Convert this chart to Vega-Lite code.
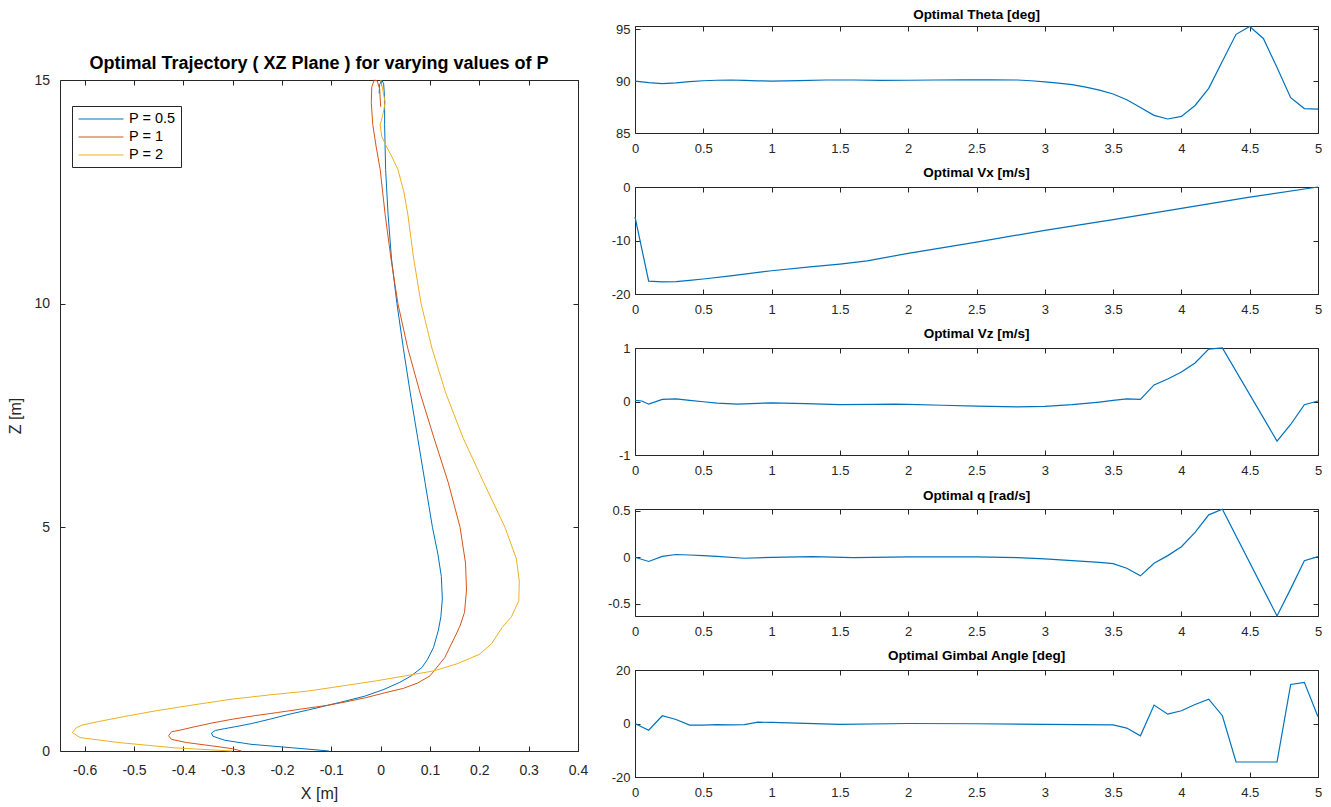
{
  "$schema": "https://vega.github.io/schema/vega-lite/v6.json",
  "background": "white",
  "padding": {"left": 6, "top": 7, "right": 10, "bottom": 2},
  "config": {
    "font": "Liberation Sans",
    "view": {"stroke": "#262626", "strokeWidth": 1},
    "axis": {"grid": false, "domain": false, "tickColor": "#262626", "tickSize": -5, "tickWidth": 1,
      "labelColor": "#262626", "labelFont": "Liberation Sans", "labelFontSize": 13,
      "titleFont": "Liberation Sans", "titleColor": "#262626", "titleFontWeight": "normal", "titleFontSize": 16,
      "labelFlush": false, "labelOverlap": false, "labelBound": false},
    "title": {"font": "Liberation Sans", "color": "#000000", "fontWeight": "bold", "anchor": "middle", "baseline": "alphabetic"}
  },
  "datasets": {
    "traj": [
      {"series": "P = 0.5", "i": 0, "x": -0.003, "z": 14.7},
      {"series": "P = 0.5", "i": 1, "x": -0.002, "z": 14.9},
      {"series": "P = 0.5", "i": 2, "x": 0.002, "z": 15.0},
      {"series": "P = 0.5", "i": 3, "x": 0.006, "z": 14.92},
      {"series": "P = 0.5", "i": 4, "x": 0.008, "z": 14.6},
      {"series": "P = 0.5", "i": 5, "x": 0.008, "z": 14.0},
      {"series": "P = 0.5", "i": 6, "x": 0.010, "z": 13.0},
      {"series": "P = 0.5", "i": 7, "x": 0.015, "z": 12.0},
      {"series": "P = 0.5", "i": 8, "x": 0.022, "z": 11.0},
      {"series": "P = 0.5", "i": 9, "x": 0.033, "z": 10.0},
      {"series": "P = 0.5", "i": 10, "x": 0.046, "z": 9.0},
      {"series": "P = 0.5", "i": 11, "x": 0.060, "z": 8.0},
      {"series": "P = 0.5", "i": 12, "x": 0.075, "z": 7.0},
      {"series": "P = 0.5", "i": 13, "x": 0.090, "z": 6.0},
      {"series": "P = 0.5", "i": 14, "x": 0.105, "z": 5.0},
      {"series": "P = 0.5", "i": 15, "x": 0.116, "z": 4.4},
      {"series": "P = 0.5", "i": 16, "x": 0.123, "z": 3.9},
      {"series": "P = 0.5", "i": 17, "x": 0.125, "z": 3.4},
      {"series": "P = 0.5", "i": 18, "x": 0.122, "z": 3.0},
      {"series": "P = 0.5", "i": 19, "x": 0.117, "z": 2.7},
      {"series": "P = 0.5", "i": 20, "x": 0.107, "z": 2.31},
      {"series": "P = 0.5", "i": 21, "x": 0.095, "z": 2.05},
      {"series": "P = 0.5", "i": 22, "x": 0.084, "z": 1.87},
      {"series": "P = 0.5", "i": 23, "x": 0.062, "z": 1.68},
      {"series": "P = 0.5", "i": 24, "x": 0.038, "z": 1.53},
      {"series": "P = 0.5", "i": 25, "x": 0.005, "z": 1.37},
      {"series": "P = 0.5", "i": 26, "x": -0.031, "z": 1.23},
      {"series": "P = 0.5", "i": 27, "x": -0.07, "z": 1.12},
      {"series": "P = 0.5", "i": 28, "x": -0.108, "z": 1.02},
      {"series": "P = 0.5", "i": 29, "x": -0.146, "z": 0.92},
      {"series": "P = 0.5", "i": 30, "x": -0.186, "z": 0.82},
      {"series": "P = 0.5", "i": 31, "x": -0.225, "z": 0.71},
      {"series": "P = 0.5", "i": 32, "x": -0.263, "z": 0.61},
      {"series": "P = 0.5", "i": 33, "x": -0.296, "z": 0.54},
      {"series": "P = 0.5", "i": 34, "x": -0.316, "z": 0.5},
      {"series": "P = 0.5", "i": 35, "x": -0.335, "z": 0.46},
      {"series": "P = 0.5", "i": 36, "x": -0.343, "z": 0.4},
      {"series": "P = 0.5", "i": 37, "x": -0.340, "z": 0.33},
      {"series": "P = 0.5", "i": 38, "x": -0.316, "z": 0.24},
      {"series": "P = 0.5", "i": 39, "x": -0.263, "z": 0.15},
      {"series": "P = 0.5", "i": 40, "x": -0.178, "z": 0.07},
      {"series": "P = 0.5", "i": 41, "x": -0.135, "z": 0.03},
      {"series": "P = 0.5", "i": 42, "x": -0.105, "z": 0.0},
      {"series": "P = 1", "i": 0, "x": 0.0, "z": 14.4},
      {"series": "P = 1", "i": 1, "x": -0.002, "z": 14.8},
      {"series": "P = 1", "i": 2, "x": -0.007, "z": 14.98},
      {"series": "P = 1", "i": 3, "x": -0.013, "z": 15.0},
      {"series": "P = 1", "i": 4, "x": -0.018, "z": 14.85},
      {"series": "P = 1", "i": 5, "x": -0.019, "z": 14.5},
      {"series": "P = 1", "i": 6, "x": -0.016, "z": 14.0},
      {"series": "P = 1", "i": 7, "x": -0.009, "z": 13.5},
      {"series": "P = 1", "i": 8, "x": -0.001, "z": 13.0},
      {"series": "P = 1", "i": 9, "x": 0.009, "z": 12.0},
      {"series": "P = 1", "i": 10, "x": 0.021, "z": 11.0},
      {"series": "P = 1", "i": 11, "x": 0.035, "z": 10.0},
      {"series": "P = 1", "i": 12, "x": 0.055, "z": 9.0},
      {"series": "P = 1", "i": 13, "x": 0.08, "z": 8.0},
      {"series": "P = 1", "i": 14, "x": 0.108, "z": 7.0},
      {"series": "P = 1", "i": 15, "x": 0.137, "z": 6.0},
      {"series": "P = 1", "i": 16, "x": 0.161, "z": 5.0},
      {"series": "P = 1", "i": 17, "x": 0.172, "z": 4.2},
      {"series": "P = 1", "i": 18, "x": 0.174, "z": 3.6},
      {"series": "P = 1", "i": 19, "x": 0.170, "z": 3.1},
      {"series": "P = 1", "i": 20, "x": 0.161, "z": 2.8},
      {"series": "P = 1", "i": 21, "x": 0.153, "z": 2.61},
      {"series": "P = 1", "i": 22, "x": 0.13, "z": 2.09},
      {"series": "P = 1", "i": 23, "x": 0.1, "z": 1.68},
      {"series": "P = 1", "i": 24, "x": 0.075, "z": 1.52},
      {"series": "P = 1", "i": 25, "x": 0.046, "z": 1.4},
      {"series": "P = 1", "i": 26, "x": 0.008, "z": 1.3},
      {"series": "P = 1", "i": 27, "x": -0.031, "z": 1.19},
      {"series": "P = 1", "i": 28, "x": -0.07, "z": 1.1},
      {"series": "P = 1", "i": 29, "x": -0.108, "z": 1.02},
      {"series": "P = 1", "i": 30, "x": -0.16, "z": 0.94},
      {"series": "P = 1", "i": 31, "x": -0.209, "z": 0.86},
      {"series": "P = 1", "i": 32, "x": -0.255, "z": 0.79},
      {"series": "P = 1", "i": 33, "x": -0.301, "z": 0.71},
      {"series": "P = 1", "i": 34, "x": -0.34, "z": 0.63},
      {"series": "P = 1", "i": 35, "x": -0.378, "z": 0.54},
      {"series": "P = 1", "i": 36, "x": -0.405, "z": 0.47},
      {"series": "P = 1", "i": 37, "x": -0.424, "z": 0.43},
      {"series": "P = 1", "i": 38, "x": -0.43, "z": 0.34},
      {"series": "P = 1", "i": 39, "x": -0.424, "z": 0.26},
      {"series": "P = 1", "i": 40, "x": -0.394, "z": 0.19},
      {"series": "P = 1", "i": 41, "x": -0.332, "z": 0.1},
      {"series": "P = 1", "i": 42, "x": -0.30, "z": 0.05},
      {"series": "P = 1", "i": 43, "x": -0.282, "z": 0.0},
      {"series": "P = 2", "i": 0, "x": 0.0, "z": 15.0},
      {"series": "P = 2", "i": 1, "x": 0.004, "z": 14.8},
      {"series": "P = 2", "i": 2, "x": 0.009, "z": 14.5},
      {"series": "P = 2", "i": 3, "x": 0.005, "z": 14.25},
      {"series": "P = 2", "i": 4, "x": -0.001, "z": 14.0},
      {"series": "P = 2", "i": 5, "x": 0.002, "z": 13.75},
      {"series": "P = 2", "i": 6, "x": 0.01, "z": 13.55},
      {"series": "P = 2", "i": 7, "x": 0.022, "z": 13.3},
      {"series": "P = 2", "i": 8, "x": 0.035, "z": 13.0},
      {"series": "P = 2", "i": 9, "x": 0.047, "z": 12.5},
      {"series": "P = 2", "i": 10, "x": 0.055, "z": 12.0},
      {"series": "P = 2", "i": 11, "x": 0.067, "z": 11.0},
      {"series": "P = 2", "i": 12, "x": 0.082, "z": 10.0},
      {"series": "P = 2", "i": 13, "x": 0.104, "z": 9.0},
      {"series": "P = 2", "i": 14, "x": 0.132, "z": 8.0},
      {"series": "P = 2", "i": 15, "x": 0.167, "z": 7.0},
      {"series": "P = 2", "i": 16, "x": 0.209, "z": 6.0},
      {"series": "P = 2", "i": 17, "x": 0.252, "z": 5.0},
      {"series": "P = 2", "i": 18, "x": 0.275, "z": 4.3},
      {"series": "P = 2", "i": 19, "x": 0.281, "z": 3.8},
      {"series": "P = 2", "i": 20, "x": 0.28, "z": 3.36},
      {"series": "P = 2", "i": 21, "x": 0.265, "z": 3.0},
      {"series": "P = 2", "i": 22, "x": 0.246, "z": 2.76},
      {"series": "P = 2", "i": 23, "x": 0.225, "z": 2.4},
      {"series": "P = 2", "i": 24, "x": 0.2, "z": 2.16},
      {"series": "P = 2", "i": 25, "x": 0.155, "z": 1.95},
      {"series": "P = 2", "i": 26, "x": 0.107, "z": 1.79},
      {"series": "P = 2", "i": 27, "x": 0.05, "z": 1.68},
      {"series": "P = 2", "i": 28, "x": -0.008, "z": 1.57},
      {"series": "P = 2", "i": 29, "x": -0.08, "z": 1.45},
      {"series": "P = 2", "i": 30, "x": -0.147, "z": 1.34},
      {"series": "P = 2", "i": 31, "x": -0.22, "z": 1.26},
      {"series": "P = 2", "i": 32, "x": -0.301, "z": 1.16},
      {"series": "P = 2", "i": 33, "x": -0.38, "z": 1.03},
      {"series": "P = 2", "i": 34, "x": -0.455, "z": 0.9},
      {"series": "P = 2", "i": 35, "x": -0.52, "z": 0.77},
      {"series": "P = 2", "i": 36, "x": -0.571, "z": 0.66},
      {"series": "P = 2", "i": 37, "x": -0.605, "z": 0.58},
      {"series": "P = 2", "i": 38, "x": -0.617, "z": 0.52},
      {"series": "P = 2", "i": 39, "x": -0.625, "z": 0.41},
      {"series": "P = 2", "i": 40, "x": -0.609, "z": 0.3},
      {"series": "P = 2", "i": 41, "x": -0.532, "z": 0.19},
      {"series": "P = 2", "i": 42, "x": -0.417, "z": 0.07},
      {"series": "P = 2", "i": 43, "x": -0.35, "z": 0.03},
      {"series": "P = 2", "i": 44, "x": -0.301, "z": 0.0}
    ],
    "theta": [
      {"t": 0, "v": 90.0}, {"t": 0.1, "v": 89.85}, {"t": 0.2, "v": 89.75}, {"t": 0.3, "v": 89.82},
      {"t": 0.4, "v": 89.94}, {"t": 0.5, "v": 90.03}, {"t": 0.6, "v": 90.08}, {"t": 0.7, "v": 90.1},
      {"t": 0.8, "v": 90.06}, {"t": 0.9, "v": 90.02}, {"t": 1.0, "v": 90.0}, {"t": 1.1, "v": 90.02},
      {"t": 1.2, "v": 90.05}, {"t": 1.4, "v": 90.1}, {"t": 1.6, "v": 90.1}, {"t": 1.8, "v": 90.06},
      {"t": 2.0, "v": 90.08}, {"t": 2.2, "v": 90.1}, {"t": 2.4, "v": 90.12}, {"t": 2.6, "v": 90.12},
      {"t": 2.8, "v": 90.1}, {"t": 2.9, "v": 90.03}, {"t": 3.0, "v": 89.92}, {"t": 3.1, "v": 89.8},
      {"t": 3.2, "v": 89.65}, {"t": 3.3, "v": 89.42}, {"t": 3.4, "v": 89.12}, {"t": 3.5, "v": 88.75},
      {"t": 3.6, "v": 88.2}, {"t": 3.7, "v": 87.45}, {"t": 3.8, "v": 86.7}, {"t": 3.9, "v": 86.35},
      {"t": 4.0, "v": 86.6}, {"t": 4.1, "v": 87.65}, {"t": 4.2, "v": 89.3}, {"t": 4.3, "v": 91.9},
      {"t": 4.4, "v": 94.5}, {"t": 4.5, "v": 95.25}, {"t": 4.6, "v": 94.1}, {"t": 4.7, "v": 91.3},
      {"t": 4.8, "v": 88.4}, {"t": 4.9, "v": 87.35}, {"t": 5.0, "v": 87.3}
    ],
    "vx": [
      {"t": 0, "v": -5.6}, {"t": 0.1, "v": -17.6}, {"t": 0.2, "v": -17.75}, {"t": 0.3, "v": -17.7},
      {"t": 0.4, "v": -17.45}, {"t": 0.5, "v": -17.2}, {"t": 0.7, "v": -16.6}, {"t": 1.0, "v": -15.65},
      {"t": 1.3, "v": -14.9}, {"t": 1.5, "v": -14.4}, {"t": 1.7, "v": -13.8}, {"t": 2.0, "v": -12.4},
      {"t": 2.5, "v": -10.3}, {"t": 3.0, "v": -8.1}, {"t": 3.5, "v": -6.1}, {"t": 4.0, "v": -4.0},
      {"t": 4.5, "v": -1.9}, {"t": 5.0, "v": 0.0}
    ],
    "vz": [
      {"t": 0, "v": 0.02}, {"t": 0.05, "v": 0.01}, {"t": 0.1, "v": -0.05}, {"t": 0.2, "v": 0.04},
      {"t": 0.3, "v": 0.05}, {"t": 0.4, "v": 0.02}, {"t": 0.5, "v": -0.005}, {"t": 0.6, "v": -0.03},
      {"t": 0.75, "v": -0.05}, {"t": 0.9, "v": -0.035}, {"t": 1.0, "v": -0.025}, {"t": 1.25, "v": -0.04},
      {"t": 1.5, "v": -0.06}, {"t": 1.75, "v": -0.055}, {"t": 1.9, "v": -0.05}, {"t": 2.0, "v": -0.055},
      {"t": 2.25, "v": -0.07}, {"t": 2.5, "v": -0.085}, {"t": 2.8, "v": -0.1}, {"t": 3.0, "v": -0.09},
      {"t": 3.2, "v": -0.06}, {"t": 3.4, "v": -0.01}, {"t": 3.5, "v": 0.02}, {"t": 3.6, "v": 0.05},
      {"t": 3.7, "v": 0.04}, {"t": 3.8, "v": 0.31}, {"t": 3.9, "v": 0.42}, {"t": 4.0, "v": 0.55},
      {"t": 4.1, "v": 0.72}, {"t": 4.2, "v": 0.98}, {"t": 4.3, "v": 1.0}, {"t": 4.7, "v": -0.74},
      {"t": 4.8, "v": -0.43}, {"t": 4.9, "v": -0.06}, {"t": 5.0, "v": 0.01}
    ],
    "q": [
      {"t": 0, "v": 0.0}, {"t": 0.1, "v": -0.045}, {"t": 0.2, "v": 0.01}, {"t": 0.3, "v": 0.03},
      {"t": 0.4, "v": 0.025}, {"t": 0.5, "v": 0.018}, {"t": 0.6, "v": 0.01}, {"t": 0.8, "v": -0.01},
      {"t": 1.0, "v": 0.0}, {"t": 1.3, "v": 0.007}, {"t": 1.6, "v": -0.004}, {"t": 2.0, "v": 0.004},
      {"t": 2.5, "v": 0.004}, {"t": 2.8, "v": -0.004}, {"t": 3.0, "v": -0.018}, {"t": 3.2, "v": -0.036},
      {"t": 3.4, "v": -0.054}, {"t": 3.5, "v": -0.068}, {"t": 3.6, "v": -0.118}, {"t": 3.7, "v": -0.2},
      {"t": 3.8, "v": -0.064}, {"t": 3.9, "v": 0.018}, {"t": 4.0, "v": 0.114}, {"t": 4.1, "v": 0.268},
      {"t": 4.2, "v": 0.457}, {"t": 4.3, "v": 0.518}, {"t": 4.7, "v": -0.632}, {"t": 4.8, "v": -0.34},
      {"t": 4.9, "v": -0.036}, {"t": 5.0, "v": 0.007}
    ],
    "gimbal": [
      {"t": 0, "v": 0.0}, {"t": 0.1, "v": -2.5}, {"t": 0.2, "v": 2.9}, {"t": 0.3, "v": 1.5},
      {"t": 0.4, "v": -0.6}, {"t": 0.5, "v": -0.6}, {"t": 0.6, "v": -0.4}, {"t": 0.7, "v": -0.5},
      {"t": 0.8, "v": -0.4}, {"t": 0.9, "v": 0.5}, {"t": 1.0, "v": 0.4}, {"t": 1.5, "v": -0.3},
      {"t": 2.0, "v": 0.0}, {"t": 2.5, "v": -0.1}, {"t": 3.0, "v": -0.3}, {"t": 3.5, "v": -0.5},
      {"t": 3.6, "v": -1.7}, {"t": 3.7, "v": -4.6}, {"t": 3.8, "v": 6.9}, {"t": 3.9, "v": 3.5},
      {"t": 4.0, "v": 4.75}, {"t": 4.1, "v": 7.1}, {"t": 4.2, "v": 9.1}, {"t": 4.3, "v": 2.9},
      {"t": 4.4, "v": -14.4}, {"t": 4.5, "v": -14.4}, {"t": 4.6, "v": -14.4}, {"t": 4.7, "v": -14.4},
      {"t": 4.8, "v": 14.6}, {"t": 4.9, "v": 15.4}, {"t": 5.0, "v": 2.5}
    ]
  },
  "hconcat": [
    {
      "vconcat": [
        {
          "width": 518, "height": 1,
          "data": {"values": [{"s": 0}]},
          "mark": {"type": "point", "opacity": 0},
          "encoding": {},
          "view": {"stroke": null}
        },
        {
          "width": 518, "height": 671,
          "title": {"text": "Optimal Trajectory ( XZ Plane ) for varying values of P", "fontSize": 18, "offset": 0},
          "data": {"name": "traj"},
          "layer": [
            {
              "mark": {"type": "line", "strokeWidth": 1},
              "encoding": {
                "x": {"field": "x", "type": "quantitative", "scale": {"domain": [-0.65, 0.4], "nice": false, "zero": false},
                  "axis": {"values": [-0.6, -0.5, -0.4, -0.3, -0.2, -0.1, 0, 0.1, 0.2, 0.3, 0.4], "labelExpr": "'' + datum.value",
                    "labelFontSize": 14, "labelPadding": 17, "title": "X [m]", "titleY": 47, "titleBaseline": "alphabetic"}},
                "y": {"field": "z", "type": "quantitative", "scale": {"domain": [0, 15], "nice": false, "zero": false},
                  "axis": {"values": [0, 5, 10, 15], "labelExpr": "'' + datum.value", "labelFontSize": 14, "labelPadding": 15.5,
                    "title": "Z [m]", "titleX": -45, "titleY": 335.5, "titleBaseline": "middle", "titleAngle": -90, "titleAlign": "center"}},
                "color": {"field": "series", "type": "nominal",
                  "scale": {"domain": ["P = 0.5", "P = 1", "P = 2"], "range": ["#0072BD", "#D95319", "#EDB120"]},
                  "legend": {"orient": "none", "legendX": 12, "legendY": 80, "title": null,
                    "symbolType": "M-3,0H3", "symbolSize": 225, "symbolStrokeWidth": 1, "symbolOffset": 16,
                    "labelOffset": 20, "padding": 5, "rowPadding": 3, "labelFontSize": 14.5, "labelFont": "Liberation Sans",
                    "labelColor": "#000000", "strokeColor": "#262626", "fillColor": "white", "cornerRadius": 0}},
                "order": {"field": "i", "type": "quantitative"}
              }
            },
            {
              "mark": {"type": "line", "opacity": 0},
              "encoding": {
                "x": {"field": "x", "type": "quantitative", "axis": {"orient": "top", "labels": false, "title": null,
                  "values": [-0.6, -0.5, -0.4, -0.3, -0.2, -0.1, 0, 0.1, 0.2, 0.3, 0.4]}},
                "y": {"field": "z", "type": "quantitative", "axis": {"orient": "right", "labels": false, "title": null,
                  "values": [0, 5, 10, 15]}},
                "detail": {"field": "series"},
                "order": {"field": "i", "type": "quantitative"}
              }
            }
          ],
          "resolve": {"axis": {"x": "independent", "y": "independent"}}
        }
      ],
      "spacing": 53,
      "bounds": "flush"
    },
    {
      "vconcat": [
        {
          "width": 683, "height": 107,
          "title": {"text": "Optimal Theta [deg]", "fontSize": 13.5, "offset": 2},
          "data": {"name": "theta"},
          "layer": [
            {"mark": {"type": "line", "color": "#0072BD", "strokeWidth": 1.2},
             "encoding": {
               "x": {"field": "t", "type": "quantitative", "scale": {"domain": [0, 5], "nice": false},
                 "axis": {"values": [0, 0.5, 1, 1.5, 2, 2.5, 3, 3.5, 4, 4.5, 5], "labelExpr": "'' + datum.value", "labelPadding": 14, "title": null}},
               "y": {"field": "v", "type": "quantitative", "scale": {"domain": [85, 95.3], "nice": false, "zero": false},
                 "axis": {"values": [85, 90, 95], "labelExpr": "'' + datum.value", "labelPadding": 10, "title": null}}}},
            {"mark": {"type": "line", "opacity": 0},
             "encoding": {
               "x": {"field": "t", "type": "quantitative", "axis": {"orient": "top", "labels": false, "title": null, "values": [0, 0.5, 1, 1.5, 2, 2.5, 3, 3.5, 4, 4.5, 5]}},
               "y": {"field": "v", "type": "quantitative", "axis": {"orient": "right", "labels": false, "title": null, "values": [85, 90, 95]}}}}
          ],
          "resolve": {"axis": {"x": "independent", "y": "independent"}}
        },
        {
          "width": 683, "height": 107,
          "title": {"text": "Optimal Vx [m/s]", "fontSize": 13.5, "offset": 2},
          "data": {"name": "vx"},
          "layer": [
            {"mark": {"type": "line", "color": "#0072BD", "strokeWidth": 1.2},
             "encoding": {
               "x": {"field": "t", "type": "quantitative", "scale": {"domain": [0, 5], "nice": false},
                 "axis": {"values": [0, 0.5, 1, 1.5, 2, 2.5, 3, 3.5, 4, 4.5, 5], "labelExpr": "'' + datum.value", "labelPadding": 14, "title": null}},
               "y": {"field": "v", "type": "quantitative", "scale": {"domain": [-20, 0], "nice": false, "zero": false},
                 "axis": {"values": [-20, -10, 0], "labelExpr": "'' + datum.value", "labelPadding": 10, "title": null}}}},
            {"mark": {"type": "line", "opacity": 0},
             "encoding": {
               "x": {"field": "t", "type": "quantitative", "axis": {"orient": "top", "labels": false, "title": null, "values": [0, 0.5, 1, 1.5, 2, 2.5, 3, 3.5, 4, 4.5, 5]}},
               "y": {"field": "v", "type": "quantitative", "axis": {"orient": "right", "labels": false, "title": null, "values": [-20, -10, 0]}}}}
          ],
          "resolve": {"axis": {"x": "independent", "y": "independent"}}
        },
        {
          "width": 683, "height": 107,
          "title": {"text": "Optimal Vz [m/s]", "fontSize": 13.5, "offset": 2},
          "data": {"name": "vz"},
          "layer": [
            {"mark": {"type": "line", "color": "#0072BD", "strokeWidth": 1.2},
             "encoding": {
               "x": {"field": "t", "type": "quantitative", "scale": {"domain": [0, 5], "nice": false},
                 "axis": {"values": [0, 0.5, 1, 1.5, 2, 2.5, 3, 3.5, 4, 4.5, 5], "labelExpr": "'' + datum.value", "labelPadding": 14, "title": null}},
               "y": {"field": "v", "type": "quantitative", "scale": {"domain": [-1, 1], "nice": false, "zero": false},
                 "axis": {"values": [-1, 0, 1], "labelExpr": "'' + datum.value", "labelPadding": 10, "title": null}}}},
            {"mark": {"type": "line", "opacity": 0},
             "encoding": {
               "x": {"field": "t", "type": "quantitative", "axis": {"orient": "top", "labels": false, "title": null, "values": [0, 0.5, 1, 1.5, 2, 2.5, 3, 3.5, 4, 4.5, 5]}},
               "y": {"field": "v", "type": "quantitative", "axis": {"orient": "right", "labels": false, "title": null, "values": [-1, 0, 1]}}}}
          ],
          "resolve": {"axis": {"x": "independent", "y": "independent"}}
        },
        {
          "width": 683, "height": 107,
          "title": {"text": "Optimal q [rad/s]", "fontSize": 13.5, "offset": 2},
          "data": {"name": "q"},
          "layer": [
            {"mark": {"type": "line", "color": "#0072BD", "strokeWidth": 1.2},
             "encoding": {
               "x": {"field": "t", "type": "quantitative", "scale": {"domain": [0, 5], "nice": false},
                 "axis": {"values": [0, 0.5, 1, 1.5, 2, 2.5, 3, 3.5, 4, 4.5, 5], "labelExpr": "'' + datum.value", "labelPadding": 14, "title": null}},
               "y": {"field": "v", "type": "quantitative", "scale": {"domain": [-0.632, 0.52], "nice": false, "zero": false},
                 "axis": {"values": [-0.5, 0, 0.5], "labelExpr": "'' + datum.value", "labelPadding": 10, "title": null}}}},
            {"mark": {"type": "line", "opacity": 0},
             "encoding": {
               "x": {"field": "t", "type": "quantitative", "axis": {"orient": "top", "labels": false, "title": null, "values": [0, 0.5, 1, 1.5, 2, 2.5, 3, 3.5, 4, 4.5, 5]}},
               "y": {"field": "v", "type": "quantitative", "axis": {"orient": "right", "labels": false, "title": null, "values": [-0.5, 0, 0.5]}}}}
          ],
          "resolve": {"axis": {"x": "independent", "y": "independent"}}
        },
        {
          "width": 683, "height": 107,
          "title": {"text": "Optimal Gimbal Angle [deg]", "fontSize": 13.5, "offset": 2},
          "data": {"name": "gimbal"},
          "layer": [
            {"mark": {"type": "line", "color": "#0072BD", "strokeWidth": 1.2},
             "encoding": {
               "x": {"field": "t", "type": "quantitative", "scale": {"domain": [0, 5], "nice": false},
                 "axis": {"values": [0, 0.5, 1, 1.5, 2, 2.5, 3, 3.5, 4, 4.5, 5], "labelExpr": "'' + datum.value", "labelPadding": 14, "title": null}},
               "y": {"field": "v", "type": "quantitative", "scale": {"domain": [-20, 20], "nice": false, "zero": false},
                 "axis": {"values": [-20, 0, 20], "labelExpr": "'' + datum.value", "labelPadding": 10, "title": null}}}},
            {"mark": {"type": "line", "opacity": 0},
             "encoding": {
               "x": {"field": "t", "type": "quantitative", "axis": {"orient": "top", "labels": false, "title": null, "values": [0, 0.5, 1, 1.5, 2, 2.5, 3, 3.5, 4, 4.5, 5]}},
               "y": {"field": "v", "type": "quantitative", "axis": {"orient": "right", "labels": false, "title": null, "values": [-20, 0, 20]}}}}
          ],
          "resolve": {"axis": {"x": "independent", "y": "independent"}}
        }
      ],
      "spacing": 54,
      "bounds": "flush"
    }
  ],
  "spacing": 575,
  "bounds": "flush"
}
